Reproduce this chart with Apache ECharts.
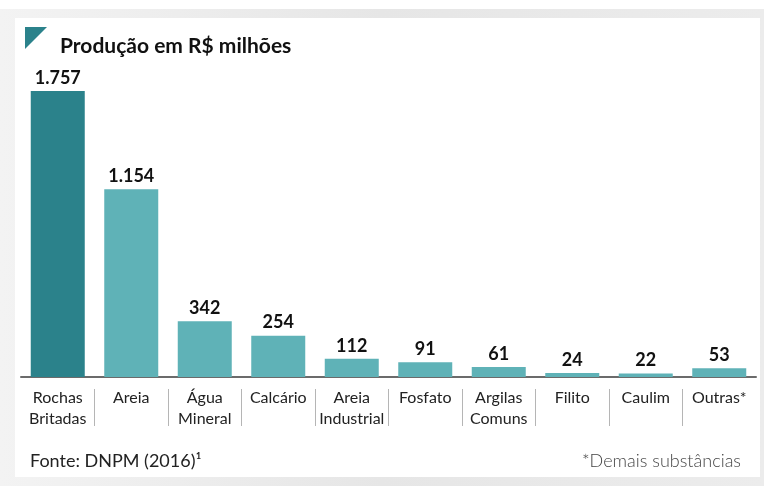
<!DOCTYPE html>
<html><head><meta charset="utf-8">
<script src="https://cdn.jsdelivr.net/npm/echarts@6/dist/echarts.min.js"></script>
<style>
html,body{margin:0;padding:0;width:764px;height:486px;overflow:hidden;background:#fff;}
#bg{position:absolute;left:0;top:9px;width:764px;height:477px;background:linear-gradient(90deg,#f3f3f3 0%,#e6e6e6 50%,#ececec 100%);}
#card{position:absolute;left:15px;top:18px;width:745px;height:459px;background:#fff;}
#chart{position:absolute;left:0;top:0;width:764px;height:486px;}
</style></head>
<body>
<div id="bg"></div><div id="card"></div>
<div id="chart"></div>
<script>
const categories = ['Rochas\nBritadas','Areia','Água\nMineral','Calcário','Areia\nIndustrial','Fosfato','Argilas\nComuns','Filito','Caulim','Outras*'];
const values = [1757, 1154, 342, 254, 112, 91, 61, 24, 22, 53];
const titleText = 'Produção em R$ milhões';
const sourceText = 'Fonte: DNPM (2016)¹';
const noteText = '*Demais substâncias';

const FONT = 'Lato, "Noto Sans", sans-serif';
const chart = echarts.init(document.getElementById('chart'), null, {renderer:'canvas'});
function fmt(v){ return String(v).replace(/\B(?=(\d{3})+(?!\d))/g, '.'); }
chart.setOption({
  backgroundColor:'transparent',
  animation:false,
  title:[
    {text:titleText, left:55, top:31, textStyle:{fontFamily:FONT, fontSize:21, fontWeight:'bold', color:'#111'}},
    {text:sourceText, left:25, top:447, textStyle:{fontFamily:FONT, fontSize:18, fontWeight:'normal', color:'#222'}},
    {text:noteText, right:18, top:447, textStyle:{fontFamily:FONT, fontSize:18, fontWeight:300, color:'#444'}}
  ],
  graphic:[{type:'polygon', shape:{points:[[25,27],[47,27],[25,49]]}, style:{fill:'#2b828b'}}],
  grid:[
    {left:21, right:8, top:91, height:286},
    {left:21, right:8, top:389, height:37}
  ],
  xAxis:[
    {type:'category', gridIndex:0, data:categories,
     axisLine:{lineStyle:{color:'#6b6b6b', width:2}}, axisTick:{show:false},
     axisLabel:{interval:0, margin:10, fontFamily:FONT, fontSize:16, lineHeight:21, color:'#222'}},
    {type:'category', gridIndex:1, data:categories,
     axisLine:{show:false}, axisTick:{show:false}, axisLabel:{show:false},
     splitLine:{show:true, showMinLine:false, showMaxLine:false, lineStyle:{color:'#b5b5b5', width:1}}}
  ],
  yAxis:[
    {type:'value', gridIndex:0, min:0, max:'dataMax', show:false},
    {type:'value', gridIndex:1, show:false}
  ],
  series:[{
    type:'bar', xAxisIndex:0, yAxisIndex:0, data:values, barWidth:54,
    itemStyle:{color:function(p){ return p.dataIndex===0 ? '#2b828b' : '#5fb2b7'; }},
    label:{show:true, position:'top', distance:4, fontFamily:FONT, fontSize:18, fontWeight:'bold', color:'#111',
      formatter:function(p){ return fmt(p.value); }}
  }]
});
</script>
</body></html>
